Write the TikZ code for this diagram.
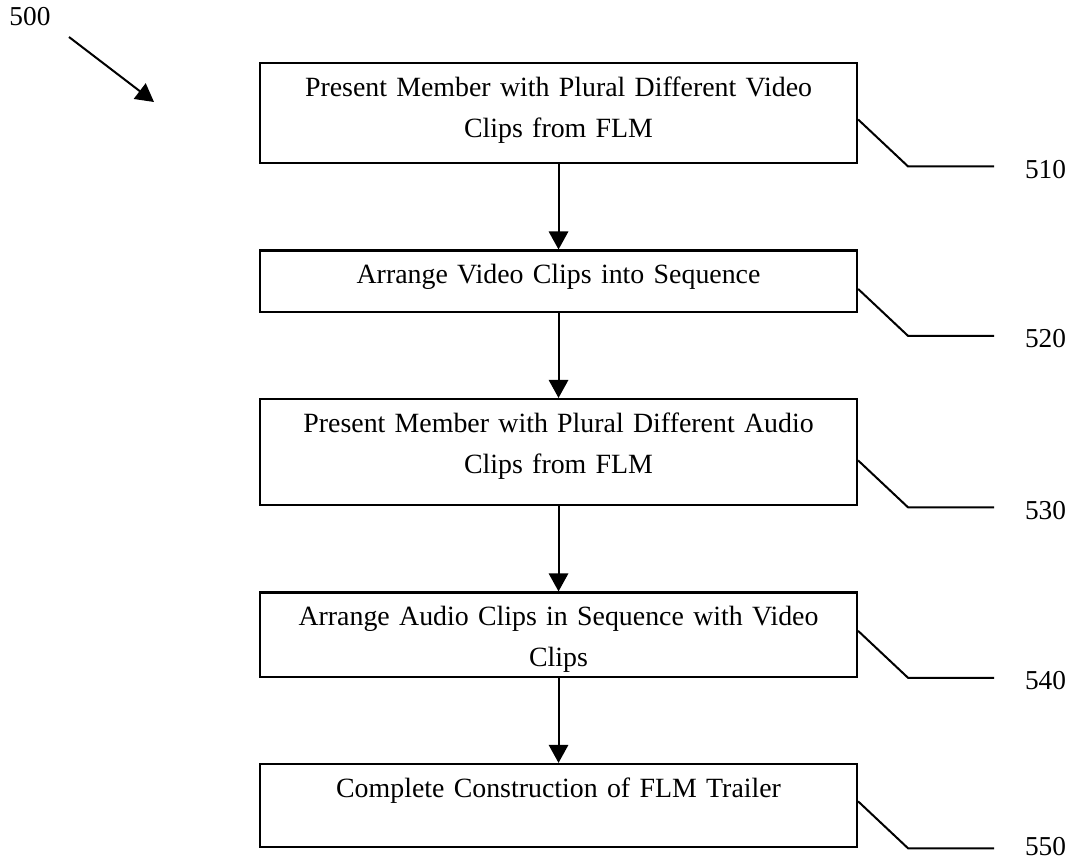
\documentclass[tikz,border=0pt]{standalone}
\usepackage{fontspec}
\setmainfont{Liberation Serif}
\usetikzlibrary{%
	positioning,
	calc,
	arrows.meta
}

\begin{document}
\begin{tikzpicture}[
		stepbox/.style={draw,line width=1.6pt,shape=rectangle,text width=447.75pt,align=center,inner xsep=0pt,inner ysep=0pt,text height=25pt,font=\fontsize{20.9pt}{30.75pt}\selectfont},
		reflabel/.style={inner sep=0pt,font=\fontsize{20.5pt}{24pt}\selectfont},
		flow/.style={line width=1.5pt,-{Triangle[length=13.5pt,width=14.5pt]}},
		leader/.style={line width=1.5pt}
	]
	\useasboundingbox (0,0) rectangle (803.25pt,-648.75pt);
	
	%500
	\node (n500) [reflabel] at (22.5pt,-12.75pt) {500};
	\coordinate (a500) at (51.75pt,-27.75pt);
	\coordinate (b500) at (115.5pt,-76.5pt);
	\draw [flow] (a500) -- (b500);
	
	%steps
	\node (s510) [stepbox, text depth=50.25pt, anchor=north] at (418.9pt,-46.5pt) {Present Member with Plural Different Video\\ Clips from FLM};
	\node (s520) [stepbox, text depth=21pt, below=63.75pt of s510] {Arrange Video Clips into Sequence};
	\node (s530) [stepbox, text depth=54.75pt, below=63.75pt of s520] {Present Member with Plural Different Audio\\ Clips from FLM};
	\node (s540) [stepbox, text depth=38.25pt, below=63.75pt of s530] {Arrange Audio Clips in Sequence with Video\\ Clips};
	\node (s550) [stepbox, text depth=37.5pt, below=63.75pt of s540] {Complete Construction of FLM Trailer};
	
	\draw [flow] (s510) -- (s520);
	\draw [flow] (s520) -- (s530);
	\draw [flow] (s530) -- (s540);
	\draw [flow] (s540) -- (s550);
	
	%reference numerals
	\draw [leader] ([yshift=33.75pt]s510.south east) -- ++(37.5pt,-35.25pt) -- ++(64.5pt,0) coordinate (k510);
	\node (n510) [reflabel, right=23pt of k510, yshift=-2pt] {510};
	\draw [leader] ([yshift=18pt]s520.south east) -- ++(37.5pt,-35.25pt) -- ++(64.5pt,0) coordinate (k520);
	\node (n520) [reflabel, right=23pt of k520, yshift=-2pt] {520};
	\draw [leader] ([yshift=34.5pt]s530.south east) -- ++(37.5pt,-35.25pt) -- ++(64.5pt,0) coordinate (k530);
	\node (n530) [reflabel, right=23pt of k530, yshift=-2pt] {530};
	\draw [leader] ([yshift=35.25pt]s540.south east) -- ++(37.5pt,-35.25pt) -- ++(64.5pt,0) coordinate (k540);
	\node (n540) [reflabel, right=23pt of k540, yshift=-2pt] {540};
	\draw [leader] ([yshift=35.25pt]s550.south east) -- ++(37.5pt,-35.25pt) -- ++(64.5pt,0) coordinate (k550);
	\node (n550) [reflabel, right=23pt of k550, yshift=1pt] {550};
	
\end{tikzpicture}
\end{document}
